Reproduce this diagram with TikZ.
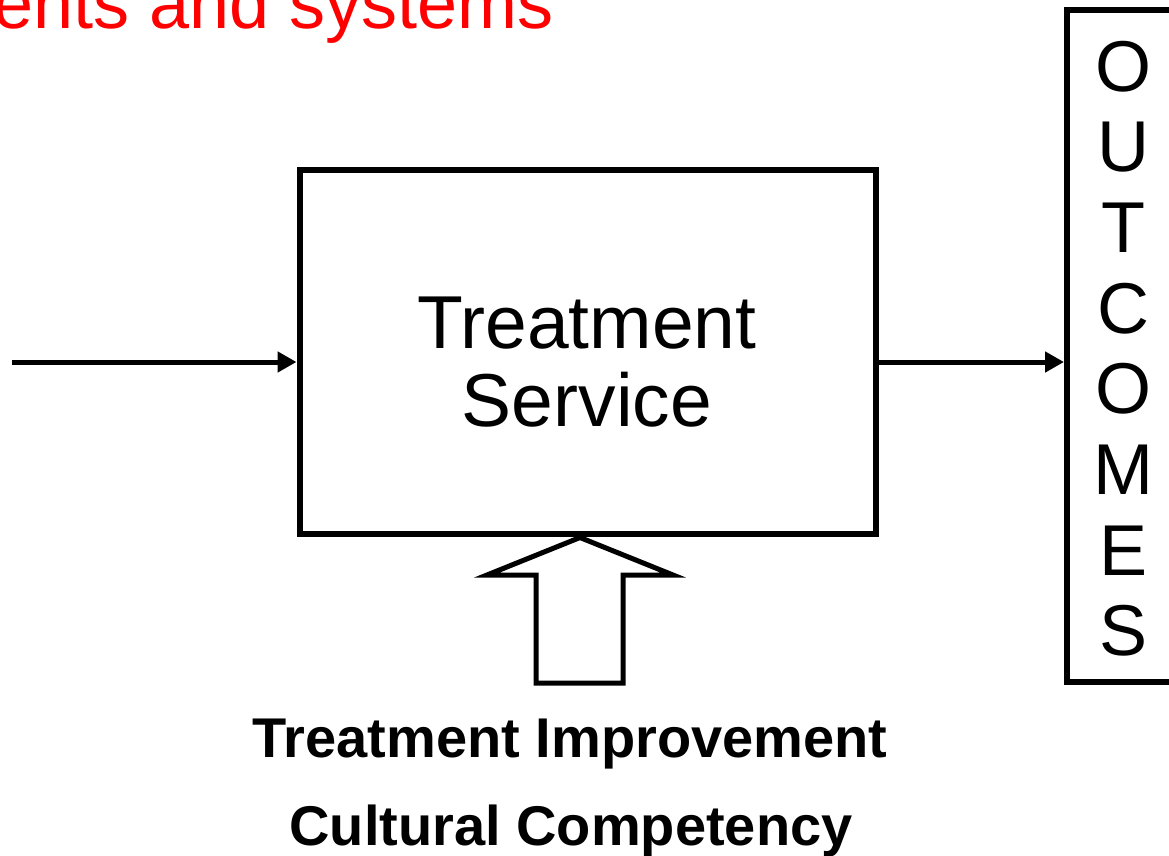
\documentclass[tikz,border=0pt]{standalone}
\usepackage{fontspec}
\setmainfont{Liberation Sans}
\usetikzlibrary{arrows.meta}
\begin{document}
\begin{tikzpicture}[x=1pt,y=-1pt,line join=miter,
  frame/.style={draw,line width=6pt,inner sep=0pt},
  conn/.style={line width=5pt,-{Triangle[length=19pt,width=20pt]}},
  big/.style={inner sep=0pt,anchor=base,font=\fontsize{75}{80}\selectfont},
  letter/.style={inner sep=0pt,anchor=base,font=\fontsize{72}{80}\selectfont},
  label/.style={inner sep=0pt,anchor=base,font=\bfseries\fontsize{56}{60}\selectfont},
  hollow/.style={draw,line width=5pt,fill=white}]
\useasboundingbox (0,0) rectangle (1169,855);
\clip (0,0) rectangle (1169,855);
% title (cut off at the top)
\node[inner sep=0pt,anchor=base east,text=red,font=\fontsize{72}{80}\selectfont] (title) at (554,28) {ents and systems};
% main box
\node[frame,minimum width=576pt,minimum height=363.7pt] (svc) at (587.5,352.15) {};
\node[big] (svc1) at (587,348) {Treatment};
\node[big] (svc2) at (587,426) {Service};
% outcomes box
\node[frame,minimum width=120pt,minimum height=672pt] (out) at (1127,346) {};
\foreach \l [count=\i] in {O,U,T,C,O,M,E,S}
  \node[letter] (o\i) at (1123,{91+80.7*(\i-1)}) {\l};
% connectors
\coordinate (in) at (12,362);
\draw[conn] (in) -- (in -| svc.west);
\draw[conn] (in -| svc.east) -- (in -| out.west);
% hollow arrow
\coordinate (tip) at (580,537.5);
\draw[hollow] (tip) -- (487,575) -- (536,575) -- (536,683) -- (623,683) -- (623,575) -- (673,575) -- cycle;
% labels
\node[label] (ti) at (570,757) {Treatment Improvement};
\node[label] (cc) at (571,845) {Cultural Competency};
\end{tikzpicture}
\end{document}
